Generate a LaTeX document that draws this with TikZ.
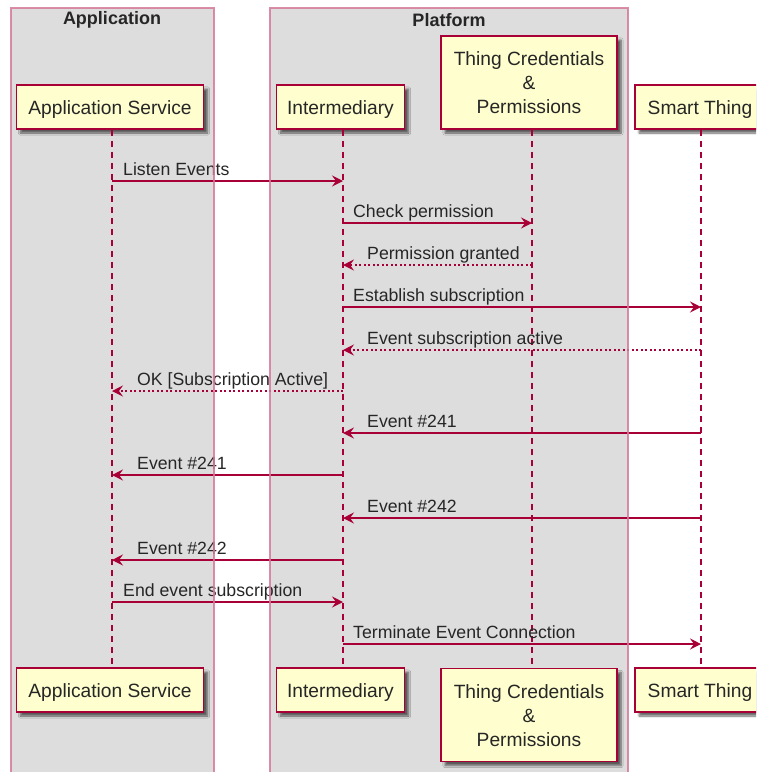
\documentclass[tikz,border=0pt]{standalone}
\usepackage{fontspec}
\setmainfont{Liberation Sans}
\usetikzlibrary{arrows.meta,shadows.blur}
\definecolor{pu}{HTML}{A80036}
\definecolor{pfill}{HTML}{FEFECE}
\definecolor{grp}{HTML}{DDDDDD}
\definecolor{grpline}{HTML}{D4789A}
\definecolor{txt}{HTML}{262626}
\begin{document}
\begin{tikzpicture}[x=1pt,y=-1pt,
  part/.style={draw=pu,fill=pfill,line width=1.5pt,inner sep=0pt,
    font=\fontsize{19.2}{24}\selectfont,text=txt,align=center,
    blur shadow={shadow xshift=4pt,shadow yshift=-4pt,shadow blur steps=6,shadow opacity=60}},
  part1/.style={part,text height=18pt,text depth=4pt},
  grpbox/.style={draw=grpline,line width=2pt},
  grptitle/.style={font=\bfseries\fontsize{18}{20}\selectfont,text=txt,inner sep=0pt},
  life/.style={draw=pu,line width=1.3pt,dash pattern=on 6pt off 5pt},
  msg/.style={draw=pu,line width=1.2pt,-{Stealth[length=11pt,width=11pt,inset=4pt]}},
  ret/.style={msg,dash pattern=on 2pt off 2.5pt},
  lbl/.style={font=\fontsize{17.7}{20}\selectfont,text=txt,inner sep=0pt,anchor=base west}]
\useasboundingbox (0,0) rectangle (756,772);
\clip (0,0) rectangle (756,772);
% group backgrounds
\fill[grp] (11,8) rectangle (214,780);
\fill[grp] (270,8) rectangle (628,780);
\node[grptitle] (tApp) at (112,20) {Application};
\node[grptitle] (tPlat) at (449,20) {Platform};
% lifeline x positions
\coordinate (L1) at (112,0);
\coordinate (L2) at (343,0);
\coordinate (L3) at (532,0);
\coordinate (L4) at (701,0);
% participants
\node[part1,minimum width=187pt,minimum height=44pt] (as) at (110,107) {Application Service};
\node[part1,minimum width=128pt,minimum height=44pt] (im) at (340.5,107) {Intermediary};
\node[part,minimum width=176pt,minimum height=93pt] (tc) at (529,82.5) {\rule{0pt}{15pt}Thing Credentials\\\&\\Permissions};
\node[part1,minimum width=130pt,minimum height=44pt] (st) at (700,107) {Smart Thing};
\node[part1,minimum width=187pt,minimum height=44pt] (asb) at (110,690) {Application Service};
\node[part1,minimum width=128pt,minimum height=44pt] (imb) at (340.5,690) {Intermediary};
\node[part,minimum width=176pt,minimum height=93pt] (tcb) at (529,715) {\rule{0pt}{15pt}Thing Credentials\\\&\\Permissions};
\node[part1,minimum width=130pt,minimum height=44pt] (stb) at (700,690) {Smart Thing};
% lifelines
\draw[life] (L1 |- as.south) -- (L1 |- asb.north);
\draw[life] (L2 |- im.south) -- (L2 |- imb.north);
\draw[life] (L3 |- tc.south) -- (L3 |- tcb.north);
\draw[life] (L4 |- st.south) -- (L4 |- stb.north);
% messages
\draw[msg] (L1 |- 0,181) -- (L2 |- 0,181);
\node[lbl] (m1) at (123,175) {Listen Events};
\draw[msg] (L2 |- 0,223) -- (L3 |- 0,223);
\node[lbl] (m2) at (353,217) {Check permission};
\draw[ret] (L3 |- 0,265) -- (L2 |- 0,265);
\node[lbl] (m3) at (367,259) {Permission granted};
\draw[msg] (L2 |- 0,307) -- (L4 |- 0,307);
\node[lbl] (m4) at (353,301) {Establish subscription};
\draw[ret] (L4 |- 0,350) -- (L2 |- 0,350);
\node[lbl] (m5) at (367,344) {Event subscription active};
\draw[ret] (L2 |- 0,391) -- (L1 |- 0,391);
\node[lbl] (m6) at (137,385) {OK [Subscription Active]};
\draw[msg] (L4 |- 0,433) -- (L2 |- 0,433);
\node[lbl] (m7) at (367,427) {Event \#241};
\draw[msg] (L2 |- 0,475) -- (L1 |- 0,475);
\node[lbl] (m8) at (137,469) {Event \#241};
\draw[msg] (L4 |- 0,518) -- (L2 |- 0,518);
\node[lbl] (m9) at (367,512) {Event \#242};
\draw[msg] (L2 |- 0,560) -- (L1 |- 0,560);
\node[lbl] (m10) at (137,554) {Event \#242};
\draw[msg] (L1 |- 0,602) -- (L2 |- 0,602);
\node[lbl] (m11) at (123,596) {End event subscription};
\draw[msg] (L2 |- 0,644) -- (L4 |- 0,644);
\node[lbl] (m12) at (353,638) {Terminate Event Connection};
% group borders on top
\draw[grpbox,draw opacity=0.85] (11,780) -- (11,8) -- (214,8) -- (214,780);
\draw[grpbox,draw opacity=0.85] (270,780) -- (270,8) -- (628,8) -- (628,780);
\end{tikzpicture}
\end{document}
